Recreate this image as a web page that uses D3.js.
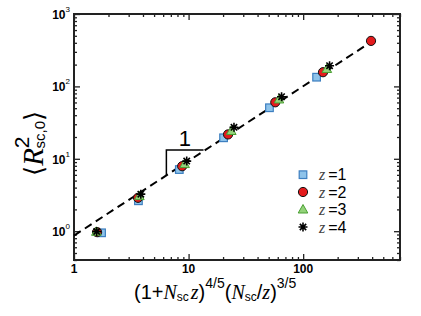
<!DOCTYPE html>
<html>
<head>
<meta charset="utf-8">
<script src="https://cdn.jsdelivr.net/npm/d3@7"></script>
<style>
  body { margin: 0; background: #fff; }
  .tick text { display: none; }
</style>
</head>
<body>
<div id="chart"></div>
<script>
// DATA
const z1X = [1.74, 3.65, 8.3, 20.2, 50.8, 131];
const z1Y = [0.95, 2.63, 7.1, 19.5, 50.7, 134];
const z2X = [1.59, 3.62, 8.79, 22.1, 57.1, 149, 391];
const z2Y = [0.97, 2.89, 7.9, 21.7, 60.3, 157, 425];
const z3X = [1.567, 3.72, 9.24, 23.6, 61.5, 161];
const z3Y = [0.98, 3.05, 8.45, 24.2, 66, 174];
const z4X = [1.576, 3.83, 9.63, 24.9, 64.8, 170];
const z4Y = [0.99, 3.25, 9.3, 27.2, 72.1, 193];
const fitX = [1, 391];
const fitY = [0.87, 410];
const slopeX = [6.4, 6.4, 13.5];
const slopeY = [5.95, 13.2, 13.2];
const xTicks = [1, 10, 100];
const yTicks = [1, 10, 100, 1000];
const legendLabels = ["1", "2", "3", "4"];

const width = 421, height = 316;
const margin = {top: 14, right: 21, bottom: 56, left: 74};

const svg = d3.select('#chart').append('svg')
    .attr('width', width)
    .attr('height', height);

// SCALES
const xScale = d3.scaleLog()
    .domain([1, 700])
    .range([margin.left, width - margin.right]);
const yScale = d3.scaleLog()
    .domain([0.4, 1000])
    .range([height - margin.bottom, margin.top]);

// minor ticks
const minorX = [], minorY = [];
for (let d = 1; d <= 100; d *= 10)
    for (let k = 2; k <= 9; k++) if (d * k <= 700) minorX.push(d * k);
for (let d = 0.1; d <= 100; d *= 10)
    for (let k = 2; k <= 9; k++) { const v = d * k; if (v >= 0.4 && v < 1000) minorY.push(v); }

const x0 = margin.left, x1 = width - margin.right;
const y0 = height - margin.bottom, y1 = margin.top;

function drawAxis(gen, tr) {
    svg.append('g').attr('transform', tr).call(gen)
        .call(g => g.select('.domain').remove())
        .selectAll('line').attr('stroke', '#222').attr('stroke-width', 1.3);
}
// bottom / top
drawAxis(d3.axisBottom(xScale).tickValues(xTicks).tickSize(-6).tickFormat(''), `translate(0,${y0})`);
drawAxis(d3.axisBottom(xScale).tickValues(minorX).tickSize(-3).tickFormat(''), `translate(0,${y0})`);
drawAxis(d3.axisTop(xScale).tickValues(xTicks).tickSize(-6).tickFormat(''), `translate(0,${y1})`);
drawAxis(d3.axisTop(xScale).tickValues(minorX).tickSize(-3).tickFormat(''), `translate(0,${y1})`);
// left / right
drawAxis(d3.axisLeft(yScale).tickValues(yTicks).tickSize(-6).tickFormat(''), `translate(${x0},0)`);
drawAxis(d3.axisLeft(yScale).tickValues(minorY).tickSize(-3).tickFormat(''), `translate(${x0},0)`);
drawAxis(d3.axisRight(yScale).tickValues(yTicks).tickSize(-6).tickFormat(''), `translate(${x1},0)`);
drawAxis(d3.axisRight(yScale).tickValues(minorY).tickSize(-3).tickFormat(''), `translate(${x1},0)`);

// frame
svg.append('rect')
    .attr('x', x0).attr('y', y1)
    .attr('width', x1 - x0).attr('height', y0 - y1)
    .attr('fill', 'none').attr('stroke', '#222').attr('stroke-width', 2);

// tick labels
svg.selectAll('text.xt')
    .data(xTicks)
    .join('text')
    .attr('class', 'xt')
    .attr('x', d => xScale(d))
    .attr('y', y0 + 13)
    .attr('text-anchor', 'middle')
    .style('font-family', 'Liberation Sans, Arial, sans-serif')
    .style('font-weight', 'bold')
    .style('font-size', '12px')
    .text(d => d);

const yt = svg.selectAll('text.yt')
    .data(yTicks)
    .join('text')
    .attr('class', 'yt')
    .attr('x', x0 - 4)
    .attr('y', d => yScale(d) + 5)
    .attr('text-anchor', 'end')
    .style('font-family', 'Liberation Sans, Arial, sans-serif')
    .style('font-weight', 'bold')
    .style('font-size', '12px');
yt.append('tspan').text('10');
yt.append('tspan').attr('dy', -7).style('font-size', '8px').style('font-weight', 'normal')
    .text(d => Math.round(Math.log10(d)));

// fit line
const line = d3.line().x(d => xScale(d[0])).y(d => yScale(d[1]));
svg.append('path')
    .datum(d3.zip(fitX, fitY))
    .attr('d', line)
    .attr('fill', 'none')
    .attr('stroke', '#000')
    .attr('stroke-width', 2)
    .attr('stroke-dasharray', '8,5');

// slope triangle
svg.append('path')
    .datum(d3.zip(slopeX, slopeY))
    .attr('d', line)
    .attr('fill', 'none')
    .attr('stroke', '#000')
    .attr('stroke-width', 1.5);
svg.append('text')
    .attr('x', (xScale(slopeX[0]) + xScale(slopeX[2])) / 2)
    .attr('y', yScale(slopeY[1]) - 4)
    .attr('text-anchor', 'middle')
    .style('font-family', 'Liberation Sans, Arial, sans-serif')
    .style('font-size', '22px')
    .text('1');

// markers
function star(r) {
    const a = r * 0.707;
    return `M${-r},0L${r},0M0,${-r}L0,${r}M${-a},${-a}L${a},${a}M${-a},${a}L${a},${-a}`;
}
const series = [
    {x: z1X, y: z1Y, kind: 'square', fill: '#8ec3ea', stroke: '#3d7fc0'},
    {x: z2X, y: z2Y, kind: 'circle', fill: '#e31a1c', stroke: '#111'},
    {x: z3X, y: z3Y, kind: 'triangle', fill: '#93d37a', stroke: '#4a9f33'},
    {x: z4X, y: z4Y, kind: 'star', fill: 'none', stroke: '#000'}
];
function marker(sel, s) {
    if (s.kind === 'square') {
        sel.append('rect').attr('x', -3.8).attr('y', -3.8).attr('width', 7.6).attr('height', 7.6)
            .attr('fill', s.fill).attr('stroke', s.stroke).attr('stroke-width', 1.2);
    } else if (s.kind === 'circle') {
        sel.append('circle').attr('r', 4.6).attr('fill', s.fill).attr('stroke', s.stroke).attr('stroke-width', 1);
    } else if (s.kind === 'triangle') {
        sel.append('path').attr('d', 'M0,-5L4.8,3.5L-4.8,3.5Z')
            .attr('fill', s.fill).attr('stroke', s.stroke).attr('stroke-width', 1);
    } else {
        sel.append('path').attr('d', star(4.5)).attr('stroke', s.stroke).attr('stroke-width', 1.6);
    }
}
series.forEach(s => {
    svg.selectAll(null)
        .data(d3.zip(s.x, s.y))
        .join('g')
        .attr('transform', d => `translate(${xScale(d[0])},${yScale(d[1])})`)
        .each(function () { marker(d3.select(this), s); });
});

// legend
const legY = [174.7, 192, 209.5, 227];
series.forEach((s, i) => {
    const g = svg.append('g').attr('transform', `translate(303,${legY[i]})`);
    marker(g, s);
    const t = g.append('text').attr('x', 16).attr('y', 5.5)
        .style('font-family', 'Liberation Sans, Arial, sans-serif')
        .style('font-size', '16px');
    t.append('tspan').style('font-family', 'Liberation Serif, serif').style('font-style', 'italic')
        .style('fill', '#444').text('z');
    t.append('tspan').attr('dx', 3).text('=' + legendLabels[i]);
});

// x-axis title
const xt = svg.append('text')
    .attr('x', 134).attr('y', 299)
    .style('font-family', 'Liberation Sans, Arial, sans-serif')
    .style('font-size', '20px');
xt.append('tspan').text('(1+');
xt.append('tspan').style('font-family', 'Liberation Serif, serif').style('font-style', 'italic').text('N');
xt.append('tspan').attr('dy', 2).style('font-size', '12px').text('sc');
xt.append('tspan').attr('dy', -2).attr('dx', 2).style('font-family', 'Liberation Serif, serif').style('font-style', 'italic').text('z');
xt.append('tspan').text(')');
xt.append('tspan').attr('dy', -11).style('font-size', '14px').text('4/5');
xt.append('tspan').attr('dy', 11).text('(');
xt.append('tspan').style('font-family', 'Liberation Serif, serif').style('font-style', 'italic').text('N');
xt.append('tspan').attr('dy', 2).style('font-size', '12px').text('sc');
xt.append('tspan').attr('dy', -2).text('/');
xt.append('tspan').style('font-family', 'Liberation Serif, serif').style('font-style', 'italic').text('z');
xt.append('tspan').text(')');
xt.append('tspan').attr('dy', -11).style('font-size', '14px').text('3/5');

// y-axis title
const ytl = svg.append('text')
    .attr('transform', 'translate(43,176) rotate(-90)')
    .style('font-family', 'DejaVu Sans, sans-serif')
    .style('font-size', '26px');
ytl.append('tspan').text('⟨');
ytl.append('tspan').style('font-family', 'Liberation Serif, serif').style('font-style', 'italic')
    .style('font-size', '29px').text('R');
ytl.append('tspan').attr('dy', -14).style('font-family', 'Liberation Sans, sans-serif')
    .style('font-size', '21px').text('2');
ytl.append('tspan').attr('dx', -12).attr('dy', 16).style('font-family', 'Liberation Sans, sans-serif')
    .style('font-size', '15px').text('sc,0');
ytl.append('tspan').attr('dy', -2).text('⟩');
</script>
</body>
</html>
